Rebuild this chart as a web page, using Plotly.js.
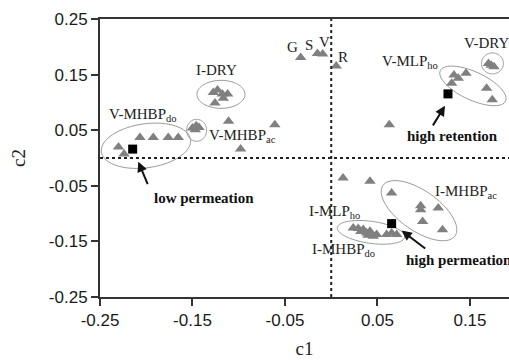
<!DOCTYPE html>
<html>
<head>
<meta charset="utf-8">
<script src="https://cdn.plot.ly/plotly-3.0.1.min.js"></script>
<style>html,body{margin:0;padding:0;background:#fff;}#chart{width:509px;height:362px;}</style>
</head>
<body>
<div id="chart"></div>
<script>
// ---- data ----
var triX = [-0.230,-0.224,-0.2068,-0.1924,-0.1762,-0.1654,
            -0.150,-0.146,-0.143,-0.147,
            -0.111,-0.098,-0.061,
            -0.1275,-0.123,-0.1178,-0.112,-0.1167,-0.1257,
            -0.033,-0.0149,-0.0092,0.0054,
            0.0628,
            0.1327,0.1457,0.1302,0.1374,0.168,0.1741,
            0.170,0.173,0.176,
            0.0128,0.0419,
            0.0653,0.0967,0.0967,0.1157,0.0988,0.1203,
            0.0238,0.0292,0.0346,0.0383,0.0419,0.0455,0.0491,0.0599,0.0653,0.0708,0.032,0.0397];
var triY = [0.020,0.007,0.037,0.037,0.037,0.037,
            0.054,0.058,0.055,0.051,
            0.066,0.016,0.060,
            0.1177,0.1225,0.1153,0.1153,0.1076,0.0987,
            0.1806,0.188,0.187,0.1656,
            0.0597,
            0.1495,0.1525,0.1346,0.1435,0.1256,0.1046,
            0.170,0.167,0.164,
            -0.036,-0.042,
            -0.063,-0.0857,-0.093,-0.0899,-0.114,-0.129,
            -0.1258,-0.127,-0.1288,-0.1347,-0.1319,-0.1408,-0.1378,-0.1378,-0.1347,-0.1378,-0.132,-0.139];
var sqX = [-0.2147, 0.1262, 0.0653];
var sqY = [0.016, 0.1153, -0.118];
var xTicks = [-0.25,-0.15,-0.05,0.05,0.15];
var yTicks = [-0.25,-0.15,-0.05,0.05,0.15,0.25];
var xTickText = ['-0.25','-0.15','-0.05','0.05','0.15'];
var yTickText = ['-0.25','-0.15','-0.05','0.05','0.15','0.25'];

// group labels
var labTexts = ['I-DRY','V-MHBP<sub>do</sub>','V-MHBP<sub>ac</sub>','G','S','V','R','V-MLP<sub>ho</sub>','V-DRY',
                'I-MHBP<sub>ac</sub>','I-MLP<sub>ho</sub>','I-MHBP<sub>do</sub>'];
var labX = [-0.1238,-0.2428,-0.134,-0.0418,-0.0237,-0.0078,0.013,0.1176,0.168,0.110,-0.0265,-0.023];
var labY = [0.1584,0.0776,0.040,0.2003,0.2033,0.2092,0.1823,0.1728,0.2069,-0.0606,-0.0965,-0.1647];
var labAnchor = ['center','left','left','center','center','center','center','right','center','left','left','left'];

// callouts
var callText = ['low permeation','high retention','high permeation'];
var callX = [-0.2086, 0.123, 0.0762];   // arrow tips
var callY = [-0.0067, 0.0938, -0.1306];
var callAx = [10, -13, 25];
var callAy = [24, 21, 19];
var callTextX = [-0.1374, 0.131, 0.0786];
var callTextY = [-0.0719, 0.0387, -0.1827];
var callTextAnchor = ['center','center','left'];

// ellipses: centre (data), semi-axes (px), angle (deg, clockwise on screen)
var ellCX = [-0.2003,-0.1455,-0.1192,0.1532,0.1743,0.0949,0.043];
var ellCY = [0.022,0.0498,0.1145,0.1297,0.1701,-0.0947,-0.1337];
var ellA  = [45,10,24,36,11,44,34];
var ellB  = [22,11,14,14,10.5,20,11];
var ellAng= [-8,0,0,25,0,35,8];

// ---- layout ----
var W = 509, H = 362, mL = 100, mR = 0, mT = 19, mB = 65;
var xr = [-0.25, 0.1922], yr = [-0.25, 0.25];
var pxPerX = (W - mL - mR) / (xr[1] - xr[0]);
var pxPerY = (H - mT - mB) / (yr[1] - yr[0]);

function ellipsePath(cx, cy, a, b, angDeg) {
  var th = angDeg * Math.PI / 180, p = '';
  for (var i = 0; i <= 72; i++) {
    var t = i / 72 * 2 * Math.PI;
    var dx = a * Math.cos(t) * Math.cos(th) - b * Math.sin(t) * Math.sin(th);
    var dy = a * Math.cos(t) * Math.sin(th) + b * Math.sin(t) * Math.cos(th);
    var x = cx + dx / pxPerX, y = cy - dy / pxPerY;
    p += (i === 0 ? 'M' : 'L') + x.toFixed(5) + ',' + y.toFixed(5);
  }
  return p + 'Z';
}

var shapes = [
  {type:'line', xref:'x', yref:'paper', x0:0, x1:0, y0:0, y1:1, line:{color:'#222', width:2, dash:'dot'}},
  {type:'line', xref:'paper', yref:'y', x0:0, x1:1, y0:0, y1:0, line:{color:'#222', width:2, dash:'dot'}}
];
for (var i = 0; i < ellCX.length; i++) {
  shapes.push({type:'path', xref:'x', yref:'y', path: ellipsePath(ellCX[i], ellCY[i], ellA[i], ellB[i], ellAng[i]),
               line:{color:'#9a9a9a', width:1}, layer:'below'});
}

var serif = 'Liberation Serif, Times New Roman, serif';
var annotations = [];
for (var i = 0; i < labTexts.length; i++) {
  annotations.push({x:labX[i], y:labY[i], xref:'x', yref:'y', text:labTexts[i], showarrow:false,
    xanchor:labAnchor[i], yanchor:'middle', font:{family:serif, size:15, color:'#222'}});
}
for (var i = 0; i < callText.length; i++) {
  annotations.push({x:callX[i], y:callY[i], xref:'x', yref:'y', text:'', showarrow:true,
    ax:callAx[i], ay:callAy[i], arrowhead:2, arrowsize:1, arrowwidth:2, arrowcolor:'#111', standoff:0});
  annotations.push({x:callTextX[i], y:callTextY[i], xref:'x', yref:'y', text:'<b>' + callText[i] + '</b>',
    showarrow:false, xanchor:callTextAnchor[i], yanchor:'middle', font:{family:serif, size:15, color:'#111'}});
}

var traces = [
  {x:triX, y:triY, type:'scatter', mode:'markers', hoverinfo:'skip',
   marker:{symbol:'triangle-up', size:10, color:'#808080'}},
  {x:sqX, y:sqY, type:'scatter', mode:'markers', hoverinfo:'skip',
   marker:{symbol:'square', size:9, color:'#000'}}
];

var axisFont = {family:'Liberation Sans, Arial, sans-serif', size:17, color:'#1a1a1a'};
var layout = {
  width:W, height:H, margin:{l:mL, r:mR, t:mT, b:mB},
  paper_bgcolor:'#fff', plot_bgcolor:'#fff', showlegend:false,
  xaxis:{range:xr, tickvals:xTicks, ticktext:xTickText, ticks:'outside', ticklen:7, tickwidth:2, tickcolor:'#333',
         showline:true, linecolor:'#333', linewidth:2, mirror:true, showgrid:false, zeroline:false,
         tickfont:axisFont, title:{text:'c1', font:{family:serif, size:19, color:'#222'}, standoff:12}},
  yaxis:{range:yr, tickvals:yTicks, ticktext:yTickText, ticks:'outside', ticklen:7, tickwidth:2, tickcolor:'#333',
         showline:true, linecolor:'#333', linewidth:2, mirror:false, showgrid:false, zeroline:false,
         tickfont:axisFont, title:{text:'c2', font:{family:serif, size:19, color:'#222'}, standoff:18}},
  shapes:shapes, annotations:annotations
};
Plotly.newPlot('chart', traces, layout, {displayModeBar:false, staticPlot:true});
</script>
</body>
</html>
